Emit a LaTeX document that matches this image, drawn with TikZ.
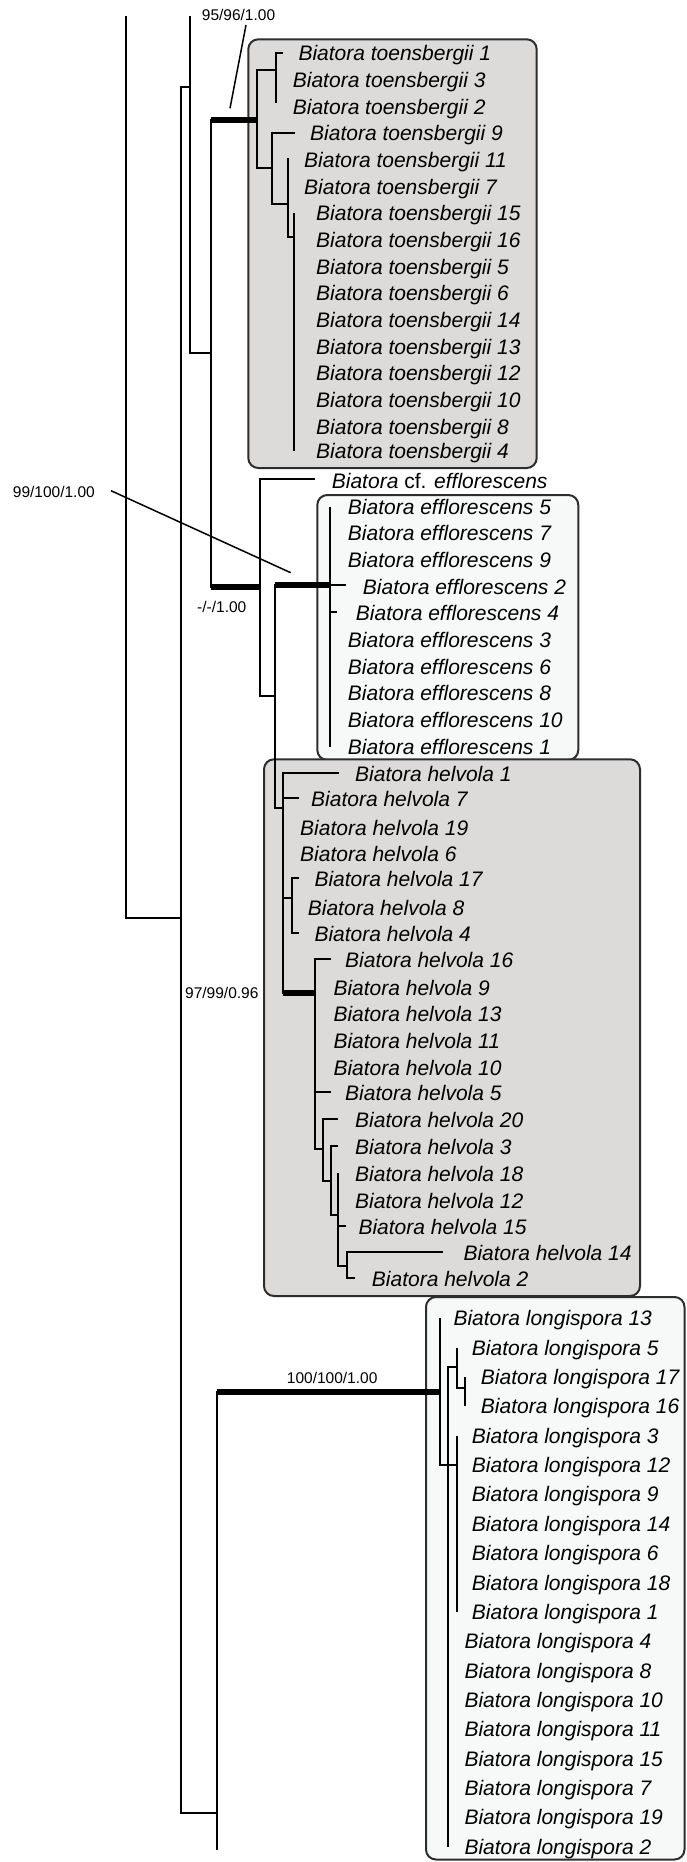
\documentclass[tikz,border=0pt]{standalone}
\usepackage{fontspec}
\setmainfont{Liberation Sans}

\definecolor{cladegray}{RGB}{220,219,218}
\definecolor{cladelight}{RGB}{247,248,248}
\definecolor{boxline}{RGB}{45,45,45}

\tikzset{
  branch/.style = {line width=2pt},
  strong/.style = {line width=6pt},
  leader/.style = {line width=1.5pt},
  clade/.style = {draw=boxline, line width=2pt, rounded corners=10pt},
  taxon/.style = {anchor=base west, inner sep=0pt, font=\fontsize{21}{25}\selectfont\itshape},
  supp/.style = {anchor=base west, inner sep=0pt, font=\fontsize{15.5}{18}\selectfont}
}

\begin{document}
\begin{tikzpicture}[x=1pt, y=-1pt]
\useasboundingbox (0,0) rectangle (686,1862);

\draw [clade, fill=cladegray] (248.3,39.3) rectangle (536.7,468);
\draw [clade, fill=cladelight] (317.3,495) rectangle (578.3,760);
\draw [clade, fill=cladegray] (264,759.3) rectangle (640,1296);
\draw [clade, fill=cladelight] (426,1297) rectangle (684.5,1859.5);

\coordinate (cutA) at (125.7,16);
\coordinate (cutB) at (190.3,16);
\coordinate (cutC) at (216.7,1850);
\coordinate (n0) at (180.5,918.3);
\coordinate (n1) at (190.3,87.3);
\coordinate (n2) at (210.8,353.3);
\coordinate (n3) at (216.7,1813);
\coordinate (tA) at (256.7,120);
\coordinate (tB) at (275.7,70);
\coordinate (tC) at (271.7,168.3);
\coordinate (tD) at (288.3,204);
\coordinate (tE) at (294.3,237.3);
\coordinate (eA) at (260,586.7);
\coordinate (eB) at (275.3,696);
\coordinate (eC) at (330,585);
\coordinate (hA) at (283.3,808.3);
\coordinate (hB) at (291.7,898.3);
\coordinate (hC) at (315,993.3);
\coordinate (hD) at (322.7,1149.3);
\coordinate (hE) at (330.7,1180.7);
\coordinate (hF) at (338.3,1215);
\coordinate (hG) at (346.7,1266);
\coordinate (lA) at (440,1391.7);
\coordinate (lB) at (448.3,1465);
\coordinate (lC) at (456.7,1367.3);
\coordinate (lD) at (456.7,1465);
\coordinate (lE) at (465,1388.3);

\draw [branch] (cutA) |- (n0);
\draw [branch] (n0) |- (n1);
\draw [branch] (n0) |- (n3);
\draw [branch] (n1) |- (cutB);
\draw [branch] (n1) |- (n2);
\draw [branch] (n2) |- (tA);
\draw [branch] (n2) |- (eA);
\draw [strong] (n2 |- tA) -- (tA);
\draw [strong] (n2 |- eA) -- (eA);
\draw [branch] (tA) |- (tB);
\draw [branch] (tA) |- (tC);
\draw [branch] (tC) |- (tD);
\draw [branch] (tD) |- (tE);
\draw [branch] (eA) |- (eB);
\draw [branch] (eB) |- (eC);
\draw [strong] (eB |- eC) -- (eC);
\draw [branch] (eB) |- (hA);
\draw [branch] (hA) |- (hB);
\draw [branch] (hA) |- (hC);
\draw [strong] (hA |- hC) -- (hC);
\draw [branch] (hC) |- (hD);
\draw [branch] (hD) |- (hE);
\draw [branch] (hE) |- (hF);
\draw [branch] (hF) |- (hG);
\draw [branch] (n3) |- (lA);
\draw [strong] (n3 |- lA) -- (lA);
\draw [branch] (n3) |- (cutC);
\draw [branch] (lA) |- (lB);
\draw [branch] (lB) |- (lC);
\draw [branch] (lB) |- (lD);
\draw [branch] (lC) |- (lE);

% Biatora toensbergii
\coordinate (tb1) at (283.3,53.3);
\coordinate (tb3) at (275.7,80);
\coordinate (tb2) at (275.7,103.5);
\coordinate (tb9) at (295,133.3);
\coordinate (tb11) at (288.3,158.5);
\coordinate (tb7) at (288.3,186.7);
\draw [branch] (tB) |- (tb1);
\draw [branch] (tB) |- (tb3);
\draw [branch] (tB) |- (tb2);
\draw [branch] (tC) |- (tb9);
\draw [branch] (tD) |- (tb11);
\draw [branch] (tD) |- (tb7);
\node [taxon] (tb1-l) at (298.3,60.8) {Biatora toensbergii 1};
\node [taxon] (tb3-l) at (292.7,87.5) {Biatora toensbergii 3};
\node [taxon] (tb2-l) at (292.7,114.2) {Biatora toensbergii 2};
\node [taxon] (tb9-l) at (310,140.8) {Biatora toensbergii 9};
\node [taxon] (tb11-l) at (304,167.5) {Biatora toensbergii 11};
\node [taxon] (tb7-l) at (304,194.2) {Biatora toensbergii 7};
\foreach \n/\y in {15/213.3, 16/240, 5/266.7, 6/293.3, 14/320, 13/346.7, 12/373.3, 10/400, 8/426.7, 4/451}
{
  \coordinate (tb\n) at (294.3,\y);
  \draw [branch] (tE) |- (tb\n);
  \node [taxon] (tb\n-l) at (316,\y+7.5) {Biatora toensbergii \n};
}

% Biatora efflorescens
\coordinate (cfe) at (315,479);
\draw [branch] (eA) |- (cfe);
\node [taxon] (cfe-l) at (331.7,488) {Biatora \textup{cf.} efflorescens};
\coordinate (ef2) at (345.7,585);
\coordinate (ef4) at (336.7,612);
\draw [branch] (eC) |- (ef2);
\draw [branch] (eC) |- (ef4);
\node [taxon] (ef2-l) at (362.7,594.2) {Biatora efflorescens 2};
\node [taxon] (ef4-l) at (355.7,620.8) {Biatora efflorescens 4};
\foreach \n/\y in {5/506.7, 7/533.3, 9/560, 3/640, 6/666.7, 8/693.3, 10/720, 1/746.7}
{
  \coordinate (ef\n) at (330,\y);
  \draw [branch] (eC) |- (ef\n);
  \node [taxon] (ef\n-l) at (347.7,\y+7.5) {Biatora efflorescens \n};
}

% Biatora helvola
\foreach \n/\x/\y/\t/\p in {1/339.3/772.7/355/hA, 7/299.3/798.3/311/hA, 19/283.3/826.7/300/hA,
  6/283.3/853.3/300/hA, 17/299.3/878.3/314.3/hB, 8/291.7/906.7/307.7/hB, 4/299.3/932.7/314.3/hB,
  16/330.7/959.3/345/hC, 9/315/986.7/333.3/hC, 13/315/1013.3/333.3/hC, 11/315/1040/333.3/hC,
  10/315/1066.7/333.3/hC, 5/330.7/1091.7/345/hC, 20/338.3/1119.3/355/hD, 3/338.3/1146/355/hE,
  18/338.3/1173.3/355/hF, 12/338.3/1200/355/hF, 15/346/1226/358.3/hF, 14/443.3/1251.7/463.3/hG,
  2/355/1278.3/371.7/hG}
{
  \coordinate (hv\n) at (\x,\y);
  \draw [branch] (\p) |- (hv\n);
  \node [taxon] (hv\n-l) at (\t,\y+8.5) {Biatora helvola \n};
}

% Biatora longispora
\foreach \n/\x/\y/\t/\p in {13/440/1318.3/453.3/lA, 5/456.7/1347.7/471.7/lC, 17/465/1377/480.7/lE,
  16/465/1406.4/480.7/lE, 3/456.7/1435.7/471.7/lD, 12/456.7/1465.1/471.7/lD, 9/456.7/1494.4/471.7/lD,
  14/456.7/1523.8/471.7/lD, 6/456.7/1553.1/471.7/lD, 18/456.7/1582.5/471.7/lD, 1/456.7/1611.8/471.7/lD,
  4/448.3/1641.2/464.3/lB, 8/448.3/1670.5/464.3/lB, 10/448.3/1699.9/464.3/lB, 11/448.3/1729.2/464.3/lB,
  15/448.3/1758.6/464.3/lB, 7/448.3/1787.9/464.3/lB, 19/448.3/1817.3/464.3/lB, 2/448.3/1846.6/464.3/lB}
{
  \coordinate (lo\n) at (\x,\y);
  \draw [branch] (\p) |- (lo\n);
  \node [taxon] (lo\n-l) at (\t,\y+7.5) {Biatora longispora \n};
}

\node [supp] (s1) at (201.7,20.5) {95/96/1.00};
\node [supp] (s2) at (12.7,497.2) {99/100/1.00};
\node [supp] (s3) at (197,612.2) {-/-/1.00};
\node [supp] (s4) at (185,998.8) {97/99/0.96};
\node [supp] (s5) at (286.7,1383.5) {100/100/1.00};
\coordinate (s1a) at (246,25);
\coordinate (s1b) at (230,108.3);
\coordinate (s2a) at (111,490.7);
\coordinate (s2b) at (290.7,572.7);
\draw [leader] (s1a) -- (s1b);
\draw [leader] (s2a) -- (s2b);

\end{tikzpicture}
\end{document}
